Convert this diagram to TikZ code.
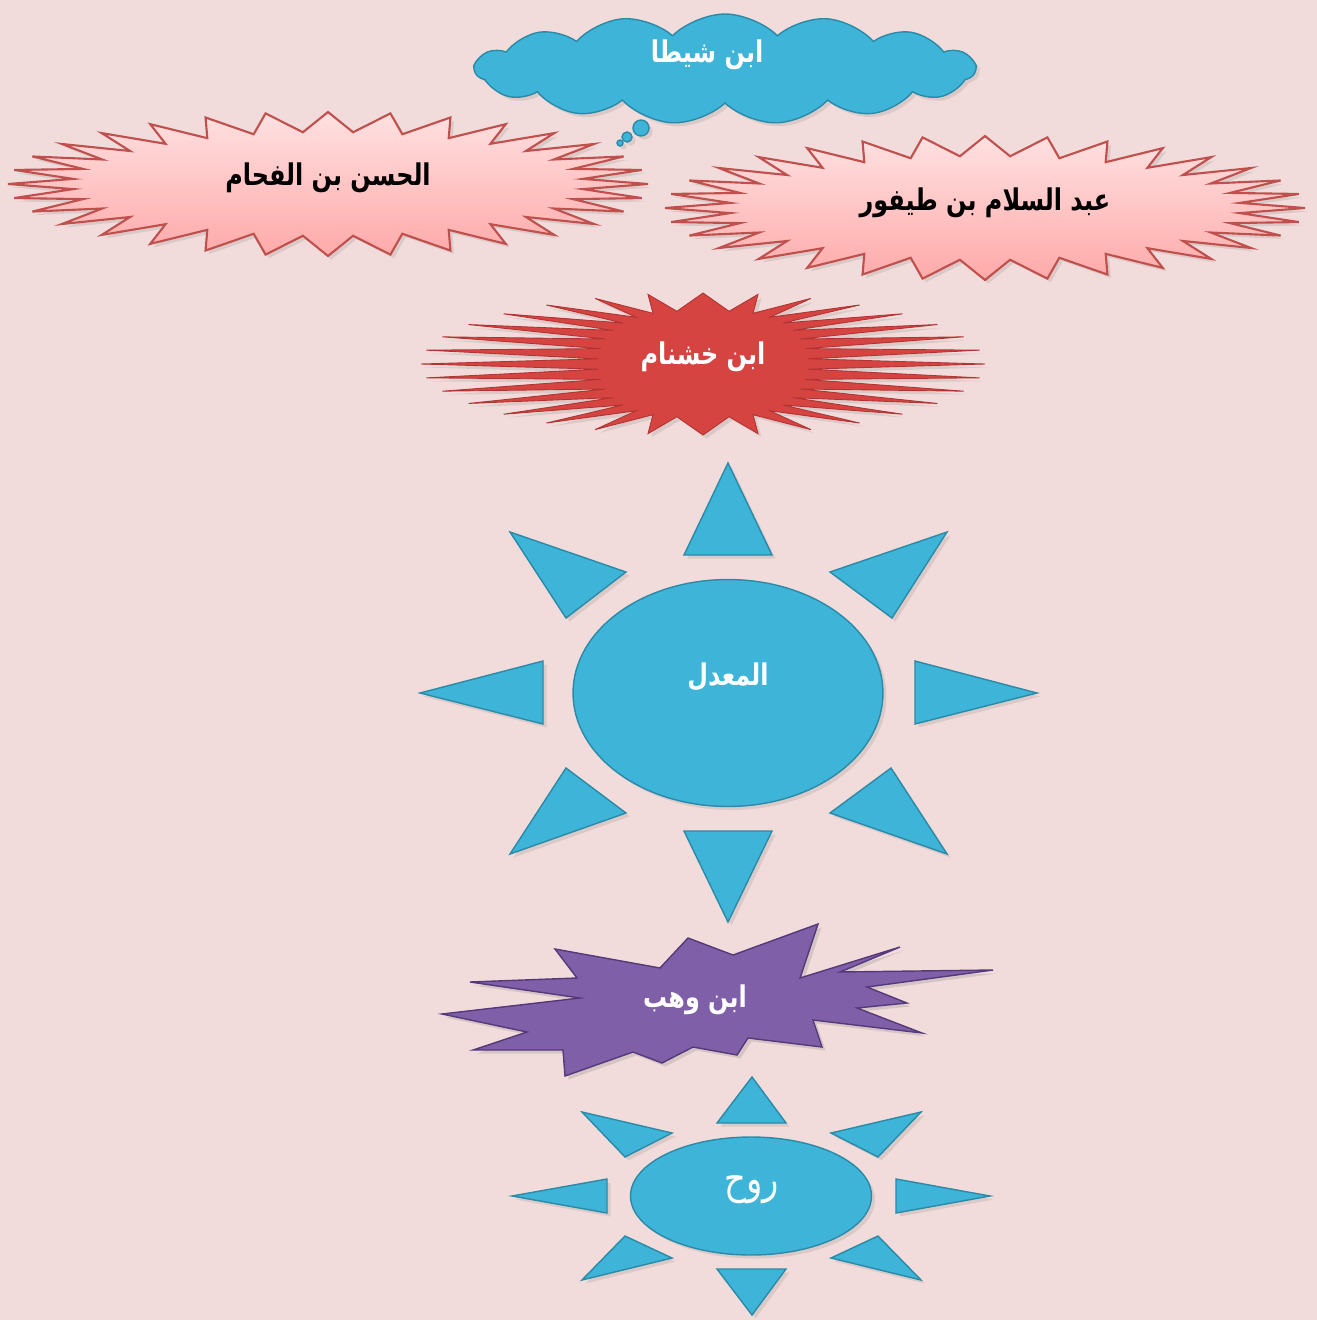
\documentclass[tikz,border=0pt]{standalone}
\usepackage{fontspec}
\usetikzlibrary{shapes.geometric,shapes.symbols,shadows}
\newfontfamily\arabicfont[Script=Arabic, FakeStretch=0.8]{DejaVu Sans}
\TeXXeTstate=1

\definecolor{bg_pink}{HTML}{F2DCDB}
\definecolor{sky}{HTML}{3DB4D8}
\definecolor{sky_dark}{HTML}{2A8AA8}
\definecolor{rose_top}{HTML}{FFE1E1}
\definecolor{rose_bottom}{HTML}{FFA9A9}
\definecolor{rose_line}{HTML}{C0504D}
\definecolor{flame}{HTML}{D64442}
\definecolor{flame_dark}{HTML}{B03432}
\definecolor{violet}{HTML}{7F5FA8}
\definecolor{violet_dark}{HTML}{55397A}

% spiky star: cx, cy, outer a, outer b, inner a, inner b, points, inner exponent, style
\newcommand{\spikystar}[9]{%
  \pgfmathtruncatemacro\nsamp{2*#7+1}%
  \pgfmathtruncatemacro\nlast{2*#7}%
  \draw[#9] plot[samples=\nsamp, domain=0:\nlast]
    ({#1+(1-mod(round(\x),2))*#3*cos(\x*180/#7)
        +mod(round(\x),2)*#5*sign(cos(\x*180/#7))*(abs(cos(\x*180/#7))+0.0001)^#8},
     {#2+(#6+(#4-#6)*(1-mod(round(\x),2)))*sin(\x*180/#7)}) -- cycle;}

\begin{document}
\begin{tikzpicture}[x=0.02cm, y=-0.02cm,
   label_dark/.style={font=\arabicfont\bfseries\fontsize{17}{20}\selectfont, text=black},
   label_light/.style={font=\arabicfont\bfseries\fontsize{17}{20}\selectfont, text=white},
   rose_style/.style={draw=rose_line, line width=1.2pt, top color=rose_top, bottom color=rose_bottom,
     drop shadow={opacity=0.2, shadow xshift=2pt, shadow yshift=-2pt}},
   flame_style/.style={draw=flame_dark, line width=0.5pt, fill=flame,
     drop shadow={opacity=0.2, shadow xshift=2pt, shadow yshift=-2pt}},
   violet_style/.style={draw=violet_dark, line width=0.8pt, fill=violet,
     drop shadow={opacity=0.25, shadow xshift=2pt, shadow yshift=-2pt}},
   sky_style/.style={draw=sky_dark, line width=0.8pt, fill=sky,
     drop shadow={opacity=0.2, shadow xshift=2pt, shadow yshift=-2pt}}]

    \fill[bg_pink] (0,0) rectangle (1317,1320);
    \useasboundingbox (0,0) rectangle (1317,1320);

    % thought cloud
    \node[sky_style, cloud, cloud puffs=15, cloud puff arc=90, aspect=4.4,
          minimum width=10cm, minimum height=2.2cm, inner sep=0pt] (shaita) at (725,69) {};
    \node[label_light] (shaita_txt) at (707,55) {\beginR ابن شيطا\endR};
    \fill[sky_style] (641,128) circle[radius=0.16cm];
    \fill[sky_style] (627,137) circle[radius=0.1cm];
    \fill[sky_style] (620,143) circle[radius=0.06cm];

    % stars
    \spikystar{328}{184}{320}{72}{256}{52}{32}{1}{rose_style}
    \node[label_dark] (fahham) at (328,178) {\beginR الحسن بن الفحام\endR};
    \spikystar{985}{208}{320}{72}{256}{52}{32}{1}{rose_style}
    \node[label_dark] (tayfur) at (985,203) {\beginR عبد السلام بن طيفور\endR};
    \spikystar{703}{364}{282}{71}{105}{53}{32}{0.6}{flame_style}
    \node[label_light] (khushnam) at (703,357) {\beginR ابن خشنام\endR};

    % sun
    \node[sky_style, ellipse, minimum width=6.2cm, minimum height=4.54cm, inner sep=0pt] (muaddal) at (728,693) {};
    \node[label_light] (muaddal_txt) at (728,677) {\beginR المعدل\endR};
    \draw[sky_style] (728,463) -- (772,555) -- (684,555) -- cycle;
    \draw[sky_style] (947,532) -- (892,618) -- (830,572) -- cycle;
    \draw[sky_style] (1037,693) -- (915,724) -- (915,661) -- cycle;
    \draw[sky_style] (947,854) -- (830,813) -- (891,768) -- cycle;
    \draw[sky_style] (728,922) -- (684,831) -- (772,831) -- cycle;
    \draw[sky_style] (510,854) -- (566,768) -- (626,813) -- cycle;
    \draw[sky_style] (420,693) -- (543,661) -- (543,724) -- cycle;
    \draw[sky_style] (510,532) -- (626,572) -- (566,618) -- cycle;

    % explosion
    \draw[violet_style] (922,1033) -- (813,1020) -- (822,1047) -- (748,1038) -- (737,1055)
       -- (693,1047) -- (662,1063) -- (633,1052) -- (565,1076) -- (563,1050) -- (473,1050)
       -- (527,1032) -- (442,1014) -- (580,998) -- (470,982) -- (577,978) -- (555,949)
       -- (660,968) -- (688,938) -- (733,955) -- (818,924) -- (800,978) -- (900,947)
       -- (840,972) -- (993,970) -- (867,987) -- (907,1003) -- (857,1008) -- cycle;
    \node[label_light] (wahb) at (695,1000) {\beginR ابن وهب\endR};

    % small sun
    \node[sky_style, ellipse, minimum width=4.82cm, minimum height=2.36cm, inner sep=0pt] (ruh) at (751,1196) {};
    \node[font=\arabicfont\fontsize{24}{27}\selectfont, text=white] (ruh_txt) at (752,1190) {\beginR روح\endR};
    \draw[sky_style] (752,1077) -- (786,1123) -- (717,1123) -- cycle;
    \draw[sky_style] (921,1112) -- (878,1157) -- (831,1133) -- cycle;
    \draw[sky_style] (990,1196) -- (896,1213) -- (896,1179) -- cycle;
    \draw[sky_style] (921,1280) -- (831,1258) -- (878,1236) -- cycle;
    \draw[sky_style] (752,1315) -- (717,1269) -- (786,1269) -- cycle;
    \draw[sky_style] (582,1280) -- (625,1236) -- (672,1258) -- cycle;
    \draw[sky_style] (512,1196) -- (607,1179) -- (607,1213) -- cycle;
    \draw[sky_style] (582,1112) -- (672,1133) -- (625,1157) -- cycle;
\end{tikzpicture}
\end{document}
